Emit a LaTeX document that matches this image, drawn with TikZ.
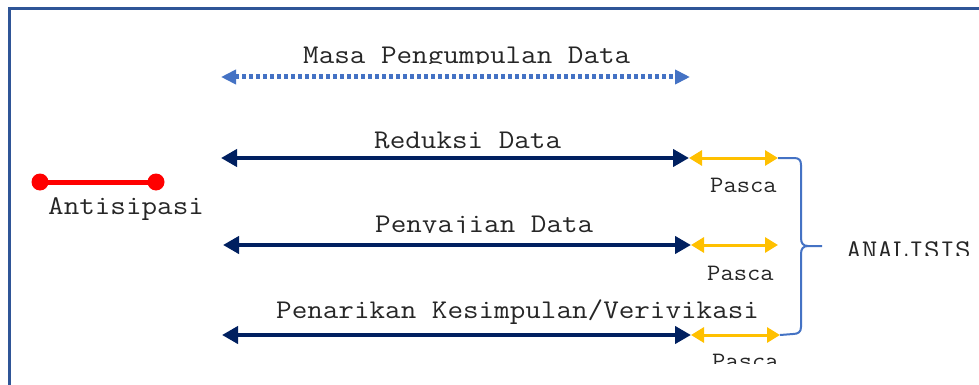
\documentclass[tikz,border=0pt]{standalone}
\usepackage{fontspec}
\usetikzlibrary{arrows.meta}
\definecolor{navy}{HTML}{002060}
\definecolor{gold}{HTML}{FFC000}
\definecolor{lblue}{HTML}{4472C4}
\definecolor{fblue}{HTML}{2F5597}
\definecolor{redline}{HTML}{FF0000}
\newcommand\widetxt[1]{\scalebox{1.12}[1]{#1}}
\newcommand\widesmall[1]{\scalebox{1.10}[1]{#1}}
\begin{document}
\begin{tikzpicture}[x=1pt,y=-1pt,
  lbl/.style={font=\fontsize{27}{31}\selectfont\ttfamily, inner sep=0pt, anchor=base west, text=black!85},
  smalllbl/.style={font=\fontsize{23.5}{27}\selectfont\ttfamily, inner sep=0pt, anchor=base west, text=black!85},
  navyarrow/.style={draw=navy, line width=4pt, {Triangle[length=16pt,width=17pt]}-{Triangle[length=16pt,width=17pt]}},
  goldarrow/.style={draw=gold, line width=3pt, {Triangle[length=13pt,width=15pt]}-{Triangle[length=13pt,width=15pt]}},
  dotarrow/.style={draw=lblue, line width=5pt, dash pattern=on 3.5pt off 3.5pt, {Triangle[length=15pt,width=14pt]}-{Triangle[length=15pt,width=14pt]}},
  frameline/.style={draw=fblue, line width=3pt},
  bracestyle/.style={draw=lblue, line width=2pt},
  redbar/.style={draw=redline, line width=5pt},
  reddot/.style={fill=redline}
]
\useasboundingbox (0,0) rectangle (979,385);
\fill[white] (0,0) rectangle (979,385);

% frame
\coordinate (fbl) at (9.5,385);
\coordinate (ftl) at (9.5,8.5);
\coordinate (ftr) at (979,8.5);
\draw[frameline] (fbl) -- (ftl) -- (ftr);

% Masa Pengumpulan Data
\begin{scope}
  \clip (0,0) rectangle (979,63.5);
  \node[lbl] (masa) at (303,64) {\widetxt{Masa Pengumpulan Data}};
\end{scope}
\coordinate (m1) at (221,77);
\coordinate (m2) at (690,77);
\draw[dotarrow] (m1) -- (m2);

% Reduksi Data
\node[lbl] (reduksi) at (374,148) {\widetxt{Reduksi Data}};
\coordinate (r1) at (221,158);
\coordinate (r2) at (689,158);
\coordinate (r3) at (778,158);
\draw[navyarrow] (r1) -- (r2);
\draw[goldarrow] (r2) -- (r3);
\node[smalllbl] (pasca1) at (710,192) {\widesmall{Pasca}};

% Antisipasi
\coordinate (a1) at (40,182);
\coordinate (a2) at (156,182);
\draw[redbar] (a1) -- (a2);
\fill[reddot] (a1) circle (8.5);
\fill[reddot] (a2) circle (8.5);
\node[lbl] (antisipasi) at (48,214) {\widetxt{Antisipasi}};

% Penyajian Data
\begin{scope}
  \clip (0,0) rectangle (979,232.5);
  \node[lbl] (penyajian) at (375,232) {\widetxt{Penyajian Data}};
\end{scope}
\coordinate (p1) at (223,245);
\coordinate (p2) at (691,245);
\coordinate (p3) at (778,245);
\draw[navyarrow] (p1) -- (p2);
\draw[goldarrow] (p2) -- (p3);
\begin{scope}
  \clip (0,0) rectangle (979,279);
  \node[smalllbl] (pasca2) at (707,280) {\widesmall{Pasca}};
\end{scope}

% Penarikan
\node[lbl] (penarikan) at (276,318) {\widetxt{Penarikan Kesimpulan/Verivikasi}};
\coordinate (k1) at (222,335);
\coordinate (k2) at (691,335);
\coordinate (k3) at (780,335);
\draw[navyarrow] (k1) -- (k2);
\draw[goldarrow] (k2) -- (k3);
\begin{scope}
  \clip (0,0) rectangle (979,363.5);
  \node[smalllbl] (pasca3) at (712,368) {\widesmall{Pasca}};
\end{scope}

% brace
\coordinate (btip) at (822,246);
\draw[bracestyle] (r3) -- (794,158) .. controls (799,158) and (801,160) .. (801,165)
  -- (801,238) .. controls (801,243) and (803,246) .. (808,246) -- (btip);
\draw[bracestyle] (808,246) .. controls (803,246) and (801,249) .. (801,254)
  -- (801,327) .. controls (801,332) and (798,334) .. (793,334) -- (k3);

% ANALISIS
\begin{scope}
  \clip (0,0) rectangle (979,255);
  \node[lbl] (analisis) at (846,258) {\widetxt{ANALISIS}};
\end{scope}
\end{tikzpicture}
\end{document}
